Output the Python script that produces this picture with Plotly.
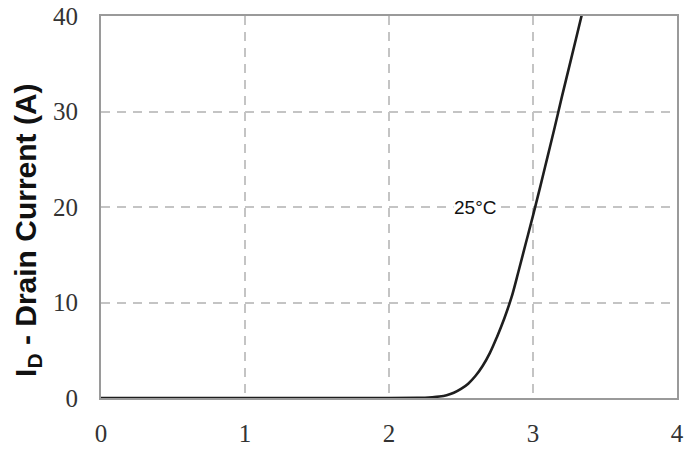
import plotly.graph_objects as go

# Transfer characteristic (25°C)
vgs = [0.0, 2.0, 2.2, 2.25, 2.3, 2.35, 2.4, 2.45, 2.5, 2.55, 2.6, 2.65, 2.7, 2.75, 2.8, 2.85,
       2.9, 2.95, 3.0, 3.05, 3.1, 3.15, 3.2, 3.25, 3.3, 3.34]
id_a = [0.0, 0.0, 0.01, 0.03, 0.08, 0.16, 0.3, 0.55, 0.95, 1.5, 2.3, 3.35, 4.7, 6.4, 8.3, 10.5,
        13.3, 16.2, 19.1, 22.1, 25.2, 28.3, 31.5, 34.6, 37.7, 40.2]

x_ticks = [0, 1, 2, 3, 4]
y_ticks = [0, 10, 20, 30, 40]
curve_label = "25°C"
label_pos = (2.60, 20)
y_title = "I<sub>D</sub> - Drain Current (A)"

fig = go.Figure()
fig.add_trace(go.Scatter(
    x=vgs, y=id_a, mode="lines",
    line=dict(color="#1e1e1e", width=2.6, shape="spline", smoothing=1.0),
    showlegend=False, cliponaxis=True,
))

fig.add_annotation(x=label_pos[0], y=label_pos[1], text=curve_label, showarrow=False,
                   font=dict(family="Liberation Sans, Arial", size=19, color="#111"),
                   bgcolor="white", borderpad=0)

fig.add_annotation(xref="paper", yref="paper", x=(28 - 101) / 576, y=0.44,
                   text="<b>" + y_title + "</b>", textangle=-90, showarrow=False,
                   font=dict(family="Liberation Sans, Arial", size=30, color="#111"),
                   xanchor="center", yanchor="middle")

axis_common = dict(
    showline=True, mirror=True, linecolor="#9a9a9a", linewidth=2,
    showgrid=True, gridcolor="#c4c4c4", gridwidth=1.5, griddash="9px,7px",
    zeroline=False, ticks="", automargin=False,
    tickfont=dict(family="Liberation Serif, Times New Roman", size=25, color="#333"),
)

fig.update_xaxes(range=[0, 4], tickvals=x_ticks, ticklabelstandoff=12, **axis_common)
fig.update_yaxes(range=[0, 40], tickvals=y_ticks, ticklabelstandoff=16, **axis_common)

fig.update_layout(
    width=693, height=450,
    margin=dict(l=101, r=16, t=16, b=52, autoexpand=False),
    paper_bgcolor="white", plot_bgcolor="white",
)

fig.write_html("out.html", config={"displayModeBar": False},
               post_script="document.body.style.margin='0';")
